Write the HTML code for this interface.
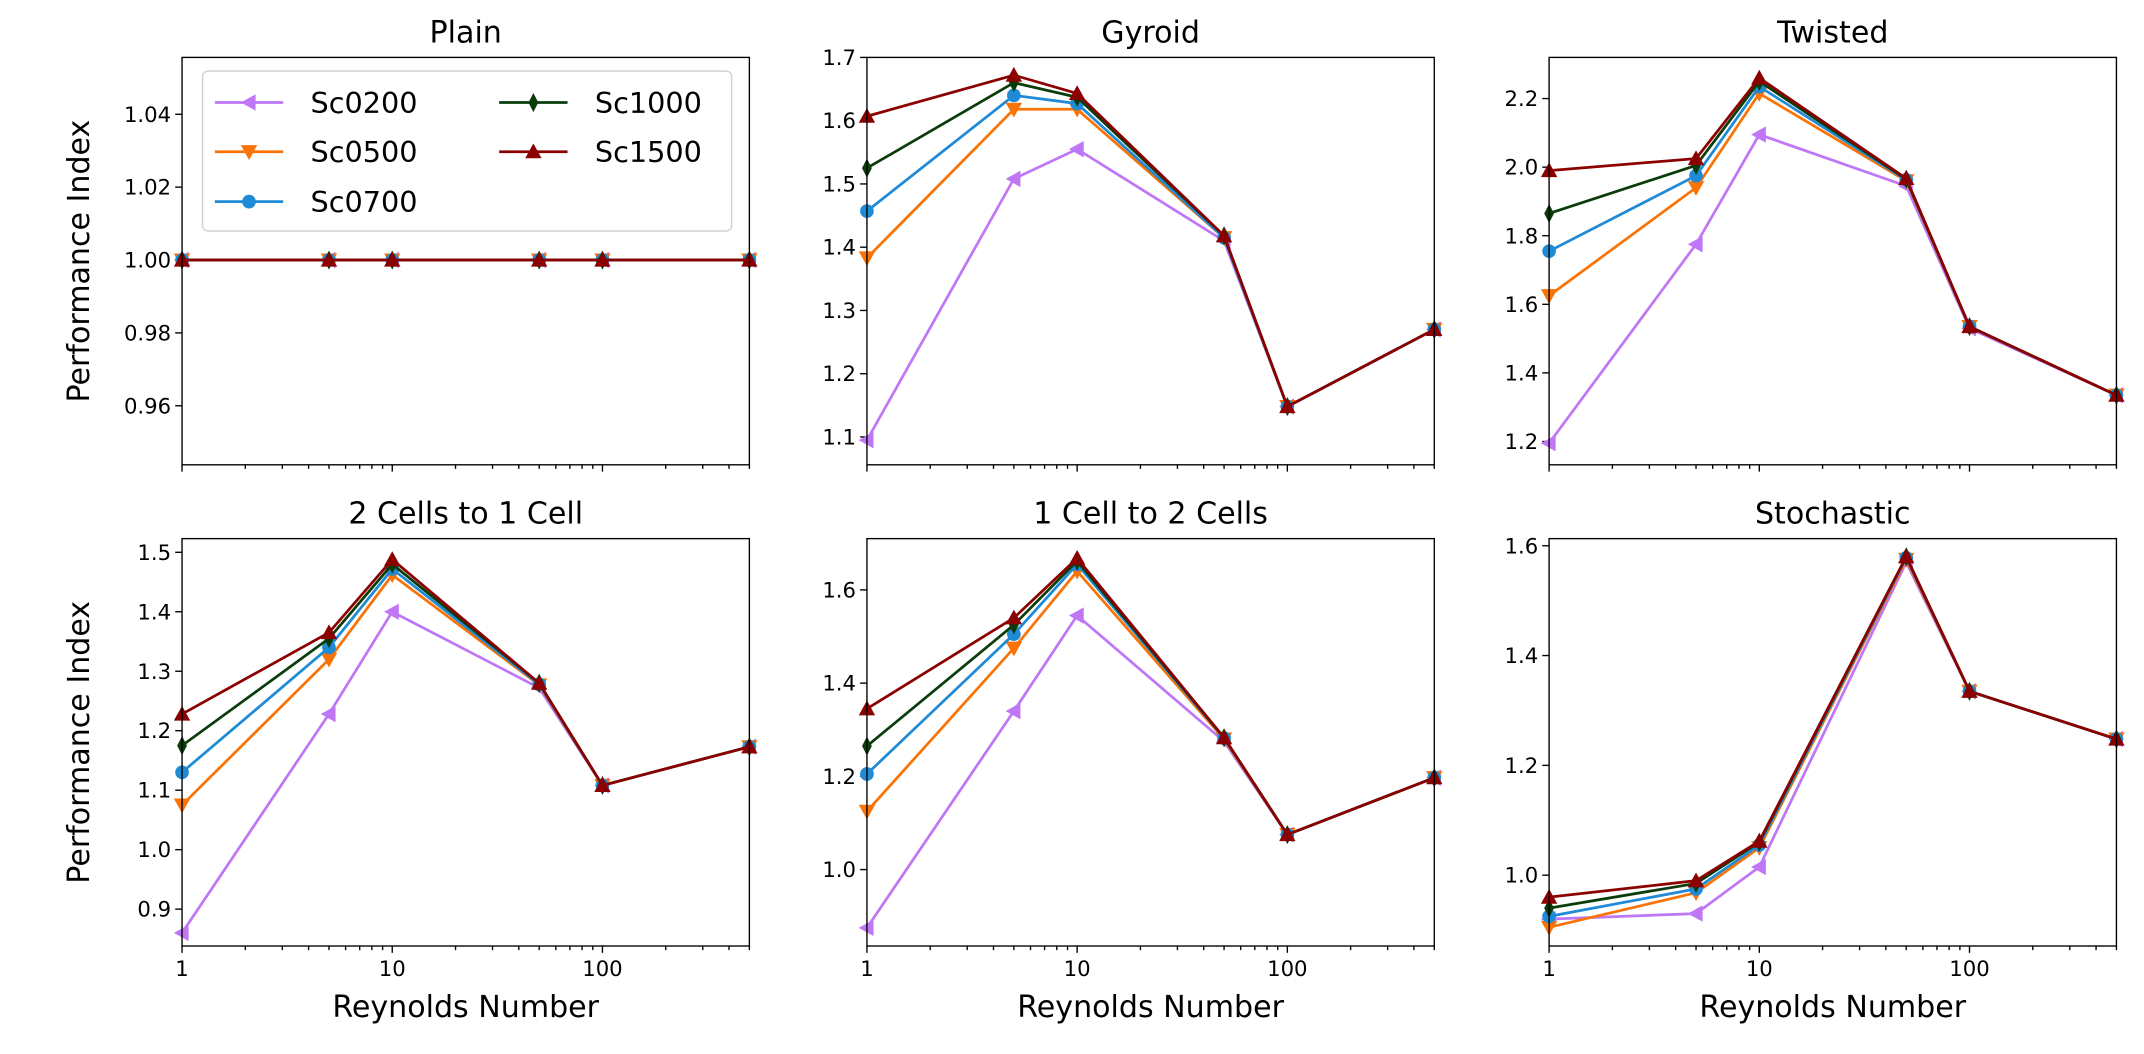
<!DOCTYPE html>
<html><head><meta charset="utf-8"><style>
html,body{margin:0;padding:0;background:#fff;}
svg{display:block;font-family:"DejaVu Sans","Liberation Sans",sans-serif;}
</style></head><body>
<svg id="fig" width="2144" height="1054" viewBox="0 0 1568 771" xmlns="http://www.w3.org/2000/svg"></svg>
<script>
const reynolds = [1, 5, 10, 50, 100, 500];
const seriesNames = ["Sc0200", "Sc0500", "Sc0700", "Sc1000", "Sc1500"];
const panelTitles = ["Plain", "Gyroid", "Twisted", "2 Cells to 1 Cell", "1 Cell to 2 Cells", "Stochastic"];
const plainValues = [[1,1,1,1,1,1],[1,1,1,1,1,1],[1,1,1,1,1,1],[1,1,1,1,1,1],[1,1,1,1,1,1]];
const gyroidValues = [
 [1.095,1.508,1.555,1.41,1.148,1.27],
 [1.383,1.618,1.618,1.415,1.148,1.27],
 [1.457,1.64,1.627,1.415,1.148,1.27],
 [1.525,1.66,1.637,1.418,1.148,1.27],
 [1.607,1.672,1.643,1.418,1.148,1.27]];
const twistedValues = [
 [1.195,1.775,2.095,1.945,1.53,1.335],
 [1.625,1.94,2.215,1.96,1.535,1.335],
 [1.755,1.975,2.235,1.963,1.535,1.335],
 [1.865,2.005,2.25,1.965,1.535,1.335],
 [1.99,2.025,2.26,1.967,1.535,1.335]];
const twoToOneValues = [
 [0.86,1.228,1.40,1.272,1.108,1.173],
 [1.075,1.32,1.462,1.277,1.108,1.173],
 [1.13,1.34,1.472,1.278,1.108,1.173],
 [1.175,1.355,1.48,1.28,1.108,1.173],
 [1.228,1.365,1.488,1.28,1.108,1.173]];
const oneToTwoValues = [
 [0.875,1.34,1.545,1.275,1.075,1.197],
 [1.125,1.475,1.64,1.28,1.075,1.197],
 [1.205,1.505,1.655,1.282,1.075,1.197],
 [1.265,1.525,1.662,1.283,1.075,1.197],
 [1.345,1.54,1.668,1.283,1.075,1.197]];
const stochasticValues = [
 [0.92,0.93,1.015,1.57,1.335,1.248],
 [0.905,0.968,1.05,1.575,1.335,1.248],
 [0.925,0.975,1.055,1.578,1.335,1.248],
 [0.94,0.985,1.06,1.58,1.335,1.248],
 [0.96,0.99,1.062,1.58,1.335,1.248]];
const yTickLabels = [
 ["0.96","0.98","1.00","1.02","1.04"],
 ["1.1","1.2","1.3","1.4","1.5","1.6","1.7"],
 ["1.2","1.4","1.6","1.8","2.0","2.2"],
 ["0.9","1.0","1.1","1.2","1.3","1.4","1.5"],
 ["1.0","1.2","1.4","1.6"],
 ["1.0","1.2","1.4","1.6"]];
const yRanges = [[0.9438,1.0556],[1.056,1.7],[1.132,2.32],[0.838,1.523],[0.836,1.71],[0.871,1.613]];
const xTickLabels = ["1","10","100"];
const allValues = [plainValues, gyroidValues, twistedValues, twoToOneValues, oneToTwoValues, stochasticValues];

const colors = ["#bf77f6","#f97306","#1f8ad6","#0b3d0b","#8b0000"];
const markers = ["left","down","circle","diamond","up"];
const NS = "http://www.w3.org/2000/svg";
const svg = document.getElementById("fig");
function mk(tag, attrs, parent){const e=document.createElementNS(NS,tag);for(const k in attrs)e.setAttribute(k,attrs[k]);(parent||svg).appendChild(e);return e;}

const colX = [133, 634, 1133], rowY = [42, 394], PW = 415, PH = 298;
const xMin = 1, xMax = 500;

function marker(g, type, x, y, c){
  const s = 6;
  let el;
  if(type==="circle"){el=mk("circle",{cx:x,cy:y,r:5,fill:c},g);}
  else if(type==="diamond"){el=mk("polygon",{points:`${x},${y-s-1} ${x+3.6},${y} ${x},${y+s+1} ${x-3.6},${y}`,fill:c},g);}
  else if(type==="up"){el=mk("polygon",{points:`${x},${y-s} ${x+s},${y+s*0.8} ${x-s},${y+s*0.8}`,fill:c},g);}
  else if(type==="down"){el=mk("polygon",{points:`${x},${y+s} ${x+s},${y-s*0.8} ${x-s},${y-s*0.8}`,fill:c},g);}
  else {el=mk("polygon",{points:`${x-s},${y} ${x+s*0.8},${y-s} ${x+s*0.8},${y+s}`,fill:c},g);}
  
  
}

for(let p=0;p<6;p++){
  const col=p%3,row=Math.floor(p/3);
  const x0=colX[col], y0=rowY[row];
  const [ymin,ymax]=yRanges[p];
  const sx=v=>x0+(Math.log10(v)-Math.log10(xMin))/(Math.log10(xMax)-Math.log10(xMin))*PW;
  const sy=v=>y0+PH-(v-ymin)/(ymax-ymin)*PH;
  const g=mk("g",{});
  
  
  const clipId="clip"+p;
  const cp=mk("clipPath",{id:clipId},g);
  mk("rect",{x:x0-8,y:y0,width:PW+16,height:PH},cp);
  const t=mk("text",{x:x0+PW/2,y:y0-11,"text-anchor":"middle","font-size":22,fill:"#000"},g);
  t.textContent=panelTitles[p];
  
  
  yTickLabels[p].forEach(lbl=>{
    const v=parseFloat(lbl), y=sy(v);
    mk("line",{x1:x0-5,x2:x0,y1:y,y2:y,stroke:"#000","stroke-width":1},g);
    const tt=mk("text",{x:x0-8,y:y+5.5,"text-anchor":"end","font-size":15.5,fill:"#000"},g);
    tt.textContent=lbl;
    
    
  });
  for(let d=1;d<=100;d*=10){for(let m=1;m<=9;m++){const v=d*m;if(v>xMax)continue;const x=sx(v);
    mk("line",{x1:x,x2:x,y1:y0+PH,y2:y0+PH+(m===1?5:3),stroke:"#000","stroke-width":1},g);}}
  if(row===1){
    xTickLabels.forEach(lbl=>{const x=sx(parseFloat(lbl));
      const tt=mk("text",{x:x,y:y0+PH+22,"text-anchor":"middle","font-size":15.5,fill:"#000"},g);
      tt.textContent=lbl;
      
      });
    const xl=mk("text",{x:x0+PW/2,y:y0+PH+52,"text-anchor":"middle","font-size":22,fill:"#000"},g);
    xl.textContent="Reynolds Number";
    
    
  }
  if(col===0){
    const yl=mk("text",{x:0,y:0,"text-anchor":"middle","font-size":22,fill:"#000",transform:`translate(65,${y0+PH/2}) rotate(-90)`},g);
    yl.textContent="Performance Index";
    
    
  }
  const dg=mk("g",{"clip-path":`url(#${clipId})`},g);
  allValues[p].forEach((vals,si)=>{
    const pts=vals.map((v,i)=>`${sx(reynolds[i])},${sy(v)}`).join(" ");
    const pl=mk("polyline",{points:pts,fill:"none",stroke:colors[si],"stroke-width":2},dg);
    
    
    vals.forEach((v,i)=>marker(dg,markers[si],sx(reynolds[i]),sy(v),colors[si]));
  });
  mk("rect",{x:x0,y:y0,width:PW,height:PH,fill:"none",stroke:"#000","stroke-width":1},g);
}

const lg=mk("g",{});


mk("rect",{x:148,y:52,width:387,height:117,rx:4,fill:"#fff",stroke:"#d0d0d0","stroke-width":1,"fill-opacity":0.8},lg);
const legPos=[[157,75],[157,111],[157,147.5],[365,75],[365,111]];
seriesNames.forEach((n,i)=>{
  const [lx,ly]=legPos[i];
  const e=mk("g",{},lg);
  
  
  mk("line",{x1:lx,x2:lx+50,y1:ly,y2:ly,stroke:colors[i],"stroke-width":2},e);
  marker(e,markers[i],lx+25,ly,colors[i]);
  const tt=mk("text",{x:lx+70,y:ly+7.5,"font-size":21,fill:"#000"},e);
  tt.textContent=n;
});
</script>
</body></html>
